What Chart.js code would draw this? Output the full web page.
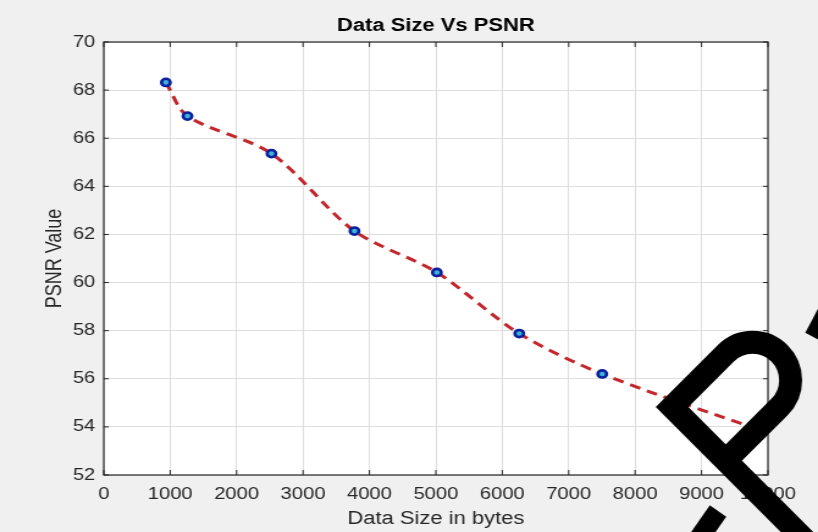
<!DOCTYPE html>
<html>
<head>
<meta charset="utf-8">
<title>Data Size Vs PSNR</title>
<script src="https://cdn.jsdelivr.net/npm/chart.js@4.4.1/dist/chart.umd.min.js"></script>
<style>
  html, body { margin: 0; padding: 0; background: #f0f0f0; }
  #wrap { width: 818px; height: 532px; overflow: hidden; }
  #psnr-chart { display: block; }
</style>
</head>
<body>
<div id="wrap">
  <!-- the source figure is stretched sideways, so draw narrow and let CSS widen it -->
  <canvas id="psnr-chart" width="670" height="532" style="width:818px;height:532px"></canvas>
</div>
<script>
// Data
const DATA_SIZE = [935, 1260, 2525, 3775, 5015, 6255, 7505, 10000];
const PSNR = [68.32, 66.92, 65.36, 62.14, 60.42, 57.88, 56.2, 53.75];
const MARKED = [true, true, true, true, true, true, true, false];
const X_TICKS = [0, 1000, 2000, 3000, 4000, 5000, 6000, 7000, 8000, 9000, 10000];
const Y_TICKS = [52, 54, 56, 58, 60, 62, 64, 66, 68, 70];

const TITLE = "Data Size Vs PSNR";
const X_TITLE = "Data Size in bytes";
const Y_TITLE = "PSNR Value";

// Layout
const STRETCH = 818 / 670;
const AXIS_COLOR = "#262626";
const GRID_COLOR = "#dedede";
const FONT = "'Liberation Sans', Arial, Helvetica, sans-serif";

// white plot box, frame and inward ticks on all four sides (MATLAB style)
const axesBox = {
  id: "axesBox",
  beforeDraw(chart) {
    const { ctx, chartArea: a } = chart;
    ctx.save();
    ctx.fillStyle = "#ffffff";
    ctx.fillRect(a.left, a.top, a.right - a.left, a.bottom - a.top);
    ctx.restore();
  },
  beforeDatasetsDraw(chart) {
    const { ctx, chartArea: a, scales } = chart;
    ctx.save();
    ctx.strokeStyle = AXIS_COLOR;
    ctx.lineWidth = 1.2;
    ctx.strokeRect(a.left, a.top, a.right - a.left, a.bottom - a.top);
    ctx.lineWidth = 1;
    ctx.beginPath();
    X_TICKS.forEach((v) => {
      const x = scales.x.getPixelForValue(v);
      ctx.moveTo(x, a.bottom); ctx.lineTo(x, a.bottom - 5);
      ctx.moveTo(x, a.top); ctx.lineTo(x, a.top + 5);
    });
    Y_TICKS.forEach((v) => {
      const y = scales.y.getPixelForValue(v);
      ctx.moveTo(a.left, y); ctx.lineTo(a.left + 5 / STRETCH, y);
      ctx.moveTo(a.right, y); ctx.lineTo(a.right - 5 / STRETCH, y);
    });
    ctx.stroke();
    ctx.restore();
  }
};

// black watermark strokes lying over the lower right corner of the figure
const watermark = {
  id: "watermark",
  afterDraw(chart) {
    const { ctx } = chart;
    const r2 = Math.SQRT1_2;
    const C = [672, 407];
    const L = 76, R = 38;
    const A = [C[0] + L * r2, C[1] - L * r2];
    const O = [A[0] + R * r2, A[1] + R * r2];
    const D = [C[0] + 2 * R * r2, C[1] + 2 * R * r2];
    const E = [C[0] + 200 * r2, C[1] + 200 * r2];
    ctx.save();
    ctx.scale(1 / STRETCH, 1);
    ctx.strokeStyle = "#000000";
    ctx.lineCap = "butt";
    ctx.lineJoin = "miter";
    ctx.lineWidth = 23;
    ctx.beginPath();
    ctx.moveTo(E[0], E[1]);
    ctx.lineTo(C[0], C[1]);
    ctx.lineTo(A[0], A[1]);
    ctx.arc(O[0], O[1], R, -3 * Math.PI / 4, Math.PI / 4, false);
    ctx.lineTo(D[0], D[1]);
    ctx.stroke();
    ctx.lineWidth = 20;
    ctx.beginPath();
    ctx.moveTo(718, 511);
    ctx.lineTo(695, 544);
    ctx.stroke();
    ctx.lineWidth = 22;
    ctx.beginPath();
    ctx.moveTo(815, 338);
    ctx.lineTo(843, 285);
    ctx.stroke();
    ctx.restore();
  }
};

const ctx = document.getElementById("psnr-chart").getContext("2d");
new Chart(ctx, {
  type: "line",
  data: {
    datasets: [{
      label: "PSNR",
      data: DATA_SIZE.map((x, i) => ({ x, y: PSNR[i] })),
      borderColor: "#c3262c",
      borderWidth: 3,
      borderDash: [9, 6],
      tension: 0.3,
      fill: false,
      pointRadius: (c) => (MARKED[c.dataIndex] ? 3.6 : 0),
      pointBorderWidth: 2.6,
      pointBorderColor: "#0b1f9e",
      pointBackgroundColor: "#3cb2d6",
      clip: false
    }]
  },
  options: {
    responsive: false,
    animation: false,
    events: [],
    layout: { padding: { top: 0, right: 41, bottom: 0, left: 0 } },
    plugins: {
      legend: { display: false },
      tooltip: { enabled: false },
      title: {
        display: true,
        text: TITLE,
        fullSize: false,
        color: "#000000",
        font: { family: FONT, size: 18, weight: "bold", lineHeight: 1.2 },
        padding: { top: 15, bottom: 5.4 }
      }
    },
    scales: {
      x: {
        type: "linear",
        min: X_TICKS[0],
        max: X_TICKS[X_TICKS.length - 1],
        afterFit: (s) => { s.height = 57; },
        afterBuildTicks: (s) => { s.ticks = X_TICKS.map((v) => ({ value: v })); },
        ticks: {
          autoSkip: false,
          maxRotation: 0,
          padding: 10,
          color: AXIS_COLOR,
          font: { family: FONT, size: 16.5 },
          callback: (v) => String(v)
        },
        grid: { color: GRID_COLOR, lineWidth: 1, drawTicks: false },
        border: { display: false },
        title: {
          display: true,
          text: X_TITLE,
          color: AXIS_COLOR,
          font: { family: FONT, size: 18, lineHeight: 1.2 },
          padding: { top: 0, bottom: 2 }
        }
      },
      y: {
        type: "linear",
        min: Y_TICKS[0],
        max: Y_TICKS[Y_TICKS.length - 1],
        afterFit: (s) => { s.width = 85; },
        afterBuildTicks: (s) => { s.ticks = Y_TICKS.map((v) => ({ value: v })); },
        ticks: {
          autoSkip: false,
          padding: 7,
          color: AXIS_COLOR,
          font: { family: FONT, size: 16.5 },
          callback: (v) => String(v)
        },
        grid: { color: GRID_COLOR, lineWidth: 1, drawTicks: false },
        border: { display: false },
        title: {
          display: true,
          text: Y_TITLE,
          color: AXIS_COLOR,
          font: { family: FONT, size: 18, lineHeight: 1.2 },
          padding: { top: 34, bottom: 0 }
        }
      }
    }
  },
  plugins: [axesBox, watermark]
});
</script>
</body>
</html>
